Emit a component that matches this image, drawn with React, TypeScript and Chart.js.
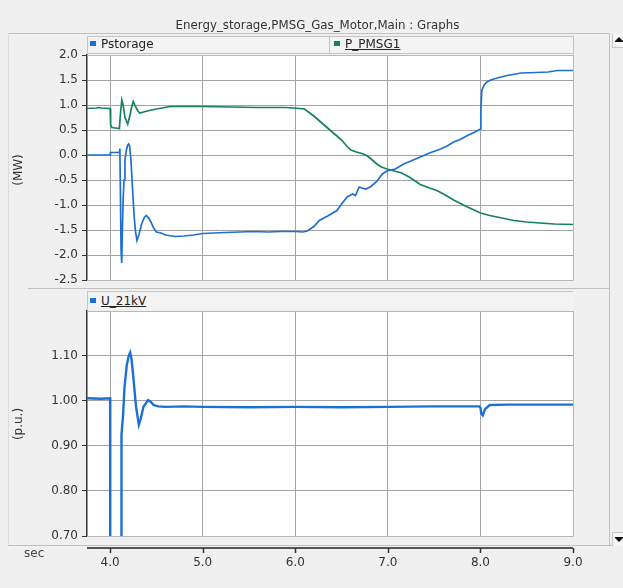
import React, { useEffect, useRef } from "react";
import { Chart, registerables } from "chart.js";
Chart.register(...registerables);

const titleText = "Energy_storage,PMSG_Gas_Motor,Main : Graphs";

const pstorageT = [3.75, 3.95, 4.0, 4.003, 4.09, 4.1, 4.105, 4.11, 4.118, 4.125, 4.13, 4.14, 4.15, 4.16, 4.175, 4.19, 4.2, 4.21, 4.225, 4.245, 4.26, 4.275, 4.29, 4.31, 4.34, 4.37, 4.39, 4.42, 4.44, 4.47, 4.5, 4.55, 4.6, 4.7, 4.8, 4.9, 5.0, 5.12, 5.25, 5.4, 5.55, 5.7, 5.84, 6.0, 6.08, 6.13, 6.2, 6.26, 6.35, 6.45, 6.5, 6.56, 6.62, 6.65, 6.69, 6.72, 6.76, 6.81, 6.88, 6.94, 6.99, 7.08, 7.17, 7.25, 7.35, 7.45, 7.57, 7.64, 7.71, 7.78, 7.86, 7.93, 8.0, 8.005, 8.015, 8.04, 8.07, 8.11, 8.2, 8.29, 8.44, 8.6, 8.73, 8.83, 9.0];
const pstorageV = [0.0, 0.0, 0.0, 0.05, 0.05, 0.07, 0.13, -0.6, -1.9, -2.16, -1.7, -0.9, -0.5, -0.1, 0.1, 0.2, 0.22, 0.18, -0.11, -0.78, -1.24, -1.55, -1.71, -1.6, -1.38, -1.25, -1.21, -1.27, -1.34, -1.46, -1.54, -1.56, -1.6, -1.63, -1.62, -1.6, -1.57, -1.56, -1.55, -1.54, -1.53, -1.54, -1.53, -1.53, -1.54, -1.52, -1.43, -1.31, -1.22, -1.11, -0.98, -0.84, -0.78, -0.81, -0.64, -0.66, -0.68, -0.64, -0.53, -0.38, -0.32, -0.28, -0.18, -0.12, -0.04, 0.04, 0.12, 0.18, 0.26, 0.31, 0.39, 0.45, 0.52, 0.9, 1.29, 1.4, 1.46, 1.5, 1.55, 1.59, 1.64, 1.65, 1.66, 1.69, 1.69];

const pmsgT = [3.75, 3.85, 3.88, 3.9, 4.0, 4.005, 4.02, 4.1, 4.11, 4.126, 4.14, 4.16, 4.19, 4.215, 4.235, 4.25, 4.27, 4.3, 4.32, 4.4, 4.5, 4.65, 4.8, 5.0, 5.3, 5.6, 5.9, 6.05, 6.1, 6.2, 6.3, 6.38, 6.45, 6.5, 6.56, 6.6, 6.66, 6.72, 6.77, 6.82, 6.88, 6.93, 6.99, 7.07, 7.15, 7.23, 7.35, 7.45, 7.53, 7.62, 7.71, 7.86, 8.0, 8.1, 8.18, 8.36, 8.5, 8.64, 8.8, 9.0];
const pmsgV = [0.93, 0.94, 0.95, 0.94, 0.93, 0.61, 0.55, 0.53, 0.8, 1.1, 1.0, 0.75, 0.62, 0.8, 0.98, 1.07, 0.98, 0.88, 0.84, 0.88, 0.92, 0.97, 0.97, 0.97, 0.96, 0.95, 0.95, 0.93, 0.92, 0.78, 0.62, 0.49, 0.38, 0.3, 0.17, 0.1, 0.06, 0.03, -0.01, -0.08, -0.18, -0.24, -0.28, -0.32, -0.36, -0.44, -0.59, -0.66, -0.71, -0.8, -0.9, -1.04, -1.16, -1.21, -1.24, -1.31, -1.34, -1.36, -1.38, -1.39];

const uT = [3.75, 3.9, 4.0, 4.001, 4.118, 4.12, 4.125, 4.14, 4.155, 4.18, 4.2, 4.216, 4.23, 4.25, 4.265, 4.28, 4.31, 4.33, 4.36, 4.41, 4.44, 4.47, 4.52, 4.6, 4.8, 5.0, 5.5, 6.0, 6.5, 7.0, 7.5, 7.99, 8.0, 8.01, 8.025, 8.05, 8.1, 8.3, 8.6, 9.0];
const uV = [1.006, 1.005, 1.006, 0.3, 0.3, 0.815, 0.925, 0.97, 1.03, 1.08, 1.1, 1.108, 1.095, 1.054, 1.02, 0.987, 0.947, 0.96, 0.987, 1.002, 0.998, 0.991, 0.988, 0.987, 0.988, 0.987, 0.986, 0.987, 0.986, 0.987, 0.988, 0.988, 0.985, 0.972, 0.968, 0.982, 0.991, 0.992, 0.992, 0.992];

const xTicks = [4, 5, 6, 7, 8, 9];
const topTicks = [-2.5, -2.0, -1.5, -1.0, -0.5, 0.0, 0.5, 1.0, 1.5, 2.0];
const bottomTicks = [0.7, 0.8, 0.9, 1.0, 1.1];

const BLUE = "#1d6fd6";
const GREEN = "#148064";
const GRID = "#a3a3a3";
const FONT = "DejaVu Sans";

function pts(t: number[], v: number[]) {
  return t.map((x, i) => ({ x, y: v[i] }));
}

const plotFrame = {
  id: "plotFrame",
  beforeDraw(chart: any) {
    const { ctx, chartArea: a } = chart;
    ctx.save();
    ctx.fillStyle = "#ffffff";
    ctx.fillRect(a.left, a.top, a.right - a.left, a.bottom - a.top);
    ctx.restore();
  },
  afterDraw(chart: any) {
    const { ctx, chartArea: a } = chart;
    ctx.save();
    ctx.strokeStyle = "#b8b8b8";
    ctx.lineWidth = 1;
    ctx.beginPath();
    ctx.moveTo(a.left, a.top + 0.5);
    ctx.lineTo(a.right + 0.5, a.top + 0.5);
    ctx.lineTo(a.right + 0.5, a.bottom + 0.5);
    ctx.lineTo(a.left, a.bottom + 0.5);
    ctx.stroke();
    ctx.restore();
  },
};

const timeAxis = {
  id: "timeAxis",
  afterDraw(chart: any) {
    const { ctx, chartArea: a } = chart;
    const xs = chart.scales.x;
    const y0 = a.bottom + 12;
    ctx.save();
    ctx.strokeStyle = "#555555";
    ctx.lineWidth = 2;
    ctx.beginPath();
    ctx.moveTo(a.left, y0);
    ctx.lineTo(a.right, y0);
    ctx.stroke();
    ctx.lineWidth = 1.5;
    ctx.strokeStyle = "#333333";
    xs.ticks.forEach((t: any) => {
      const px = Math.round(xs.getPixelForValue(t.value)) + 0.5;
      ctx.beginPath();
      ctx.moveTo(px, y0);
      ctx.lineTo(px, y0 + 5);
      ctx.stroke();
    });
    ctx.restore();
  },
};

function makeOptions(kind: "top" | "bottom"): any {
  const isTop = kind === "top";
  return {
    responsive: false,
    animation: false,
    events: [],
    layout: {
      padding: isTop
        ? { left: 0, top: 55, right: 50, bottom: 20 }
        : { left: 0, top: 21, right: 50, bottom: 12 },
    },
    plugins: { legend: { display: false }, tooltip: { enabled: false }, title: { display: false } },
    elements: { point: { radius: 0 }, line: { tension: 0 } },
    scales: {
      x: {
        type: "linear",
        min: 3.75,
        max: 9.0,
        afterBuildTicks: (s: any) => {
          s.ticks = xTicks.map((v) => ({ value: v }));
        },
        afterFit: (s: any) => {
          s.height = isTop ? 0 : 40;
        },
        grid: { color: GRID, lineWidth: 1, drawTicks: false },
        border: { display: false },
        ticks: {
          display: !isTop,
          padding: 20,
          color: "#333",
          font: { family: FONT, size: 12 },
          callback: (v: any) => Number(v).toFixed(1),
        },
      },
      y: {
        type: "linear",
        min: isTop ? -2.5 : 0.7,
        max: isTop ? 2.0 : 1.2,
        afterBuildTicks: (s: any) => {
          s.ticks = (isTop ? topTicks : bottomTicks).map((v) => ({ value: v }));
        },
        afterFit: (s: any) => {
          s.width = 87;
        },
        grid: { color: GRID, lineWidth: 1, drawTicks: true, tickLength: 5, tickColor: "#333" },
        border: { display: true, color: "#333", width: 1.5 },
        ticks: {
          padding: 4,
          color: "#333",
          font: { family: FONT, size: 12 },
          callback: (v: any) => Number(v).toFixed(isTop ? 1 : 2),
        },
      },
    },
  };
}

export default function App() {
  const topRef = useRef<HTMLCanvasElement>(null);
  const botRef = useRef<HTMLCanvasElement>(null);

  useEffect(() => {
    const top = new Chart(topRef.current as HTMLCanvasElement, {
      type: "line",
      data: {
        datasets: [
          { label: "Pstorage", data: pts(pstorageT, pstorageV), borderColor: BLUE, borderWidth: 1.7, pointRadius: 0 },
          { label: "P_PMSG1", data: pts(pmsgT, pmsgV), borderColor: GREEN, borderWidth: 1.7, pointRadius: 0 },
        ],
      },
      options: makeOptions("top"),
      plugins: [plotFrame],
    } as any);
    const bot = new Chart(botRef.current as HTMLCanvasElement, {
      type: "line",
      data: {
        datasets: [
          { label: "U_21kV", data: pts(uT, uV), borderColor: BLUE, borderWidth: 2.4, pointRadius: 0 },
        ],
      },
      options: makeOptions("bottom"),
      plugins: [plotFrame, timeAxis],
    } as any);
    return () => {
      top.destroy();
      bot.destroy();
    };
  }, []);

  const abs = (s: React.CSSProperties): React.CSSProperties => ({ position: "absolute", ...s });
  const txt: React.CSSProperties = { fontFamily: FONT, fontSize: 12, color: "#222", whiteSpace: "nowrap" };
  const line = "#c0c0c0";

  return (
    <div style={{ position: "fixed", left: 0, top: 0, width: 623, height: 588, background: "#f0f0f0", overflow: "hidden" }}>
      <canvas ref={topRef} width={623} height={300} style={abs({ left: 0, top: 0, width: 623, height: 300 })} />
      <canvas ref={botRef} width={623} height={298} style={abs({ left: 0, top: 290, width: 623, height: 298 })} />

      {/* frame lines */}
      <div style={abs({ left: 8, top: 33, width: 602, height: 1, background: line })} />
      <div style={abs({ left: 609, top: 33, width: 1, height: 512, background: line })} />
      <div style={abs({ left: 28, top: 288, width: 582, height: 1, background: line })} />
      <div style={abs({ left: 8, top: 545, width: 604, height: 1, background: line })} />
      <div style={abs({ left: 8, top: 33, width: 1, height: 512, background: "#dcdcdc" })} />

      {/* scrollbar */}
      <div style={abs({ left: 612, top: 34, width: 11, height: 13, background: "#f6f6f6", borderLeft: "1px solid #c8c8c8", borderBottom: "1px solid #c8c8c8" })} />
      <div style={abs({ left: 615, top: 37, width: 0, height: 0, borderLeft: "4px solid transparent", borderRight: "4px solid transparent", borderBottom: "4px solid #111" })} />
      <div style={abs({ left: 615, top: 41, width: 8, height: 1, background: "#111" })} />
      <div style={abs({ left: 612, top: 532, width: 11, height: 13, background: "#f6f6f6", borderLeft: "1px solid #c8c8c8", borderTop: "1px solid #c8c8c8" })} />
      <div style={abs({ left: 615, top: 537, width: 8, height: 1, background: "#111" })} />
      <div style={abs({ left: 615, top: 538, width: 0, height: 0, borderLeft: "4px solid transparent", borderRight: "4px solid transparent", borderTop: "4px solid #111" })} />

      {/* title */}
      <div style={abs({ ...txt, fontSize: 11.8, left: 317.5, top: 17, transform: "translateX(-50%)", lineHeight: "16px", color: "#333" })}>{titleText}</div>

      {/* top legend */}
      <div style={abs({ left: 87, top: 36, width: 485, height: 16, background: "#f3f3f3", border: "1px solid #c4c4c4" })} />
      <div style={abs({ left: 329, top: 37, width: 1, height: 16, background: "#c4c4c4" })} />
      <div style={abs({ left: 90, top: 41, width: 6, height: 5, background: BLUE })} />
      <div style={abs({ ...txt, left: 101, top: 36, lineHeight: "17px" })}>Pstorage</div>
      <div style={abs({ left: 334, top: 41, width: 6, height: 5, background: GREEN })} />
      <div style={abs({ ...txt, left: 345, top: 36, lineHeight: "17px", textDecoration: "underline" })}>P_PMSG1</div>

      {/* bottom legend */}
      <div style={abs({ left: 87, top: 291, width: 485, height: 18, background: "#f3f3f3", border: "1px solid #c4c4c4", borderBottom: "none", borderRight: "none" })} />
      <div style={abs({ left: 90, top: 298, width: 6, height: 5, background: BLUE })} />
      <div style={abs({ ...txt, left: 101, top: 292, lineHeight: "18px", textDecoration: "underline" })}>U_21kV</div>

      {/* axis titles */}
      <div style={abs({ ...txt, left: 18, top: 170, transform: "translate(-50%,-50%) rotate(-90deg)", color: "#333" })}>(MW)</div>
      <div style={abs({ ...txt, left: 18, top: 424, transform: "translate(-50%,-50%) rotate(-90deg)", color: "#333" })}>(p.u.)</div>
      <div style={abs({ ...txt, left: 24, top: 545, lineHeight: "16px", color: "#444" })}>sec</div>
    </div>
  );
}
